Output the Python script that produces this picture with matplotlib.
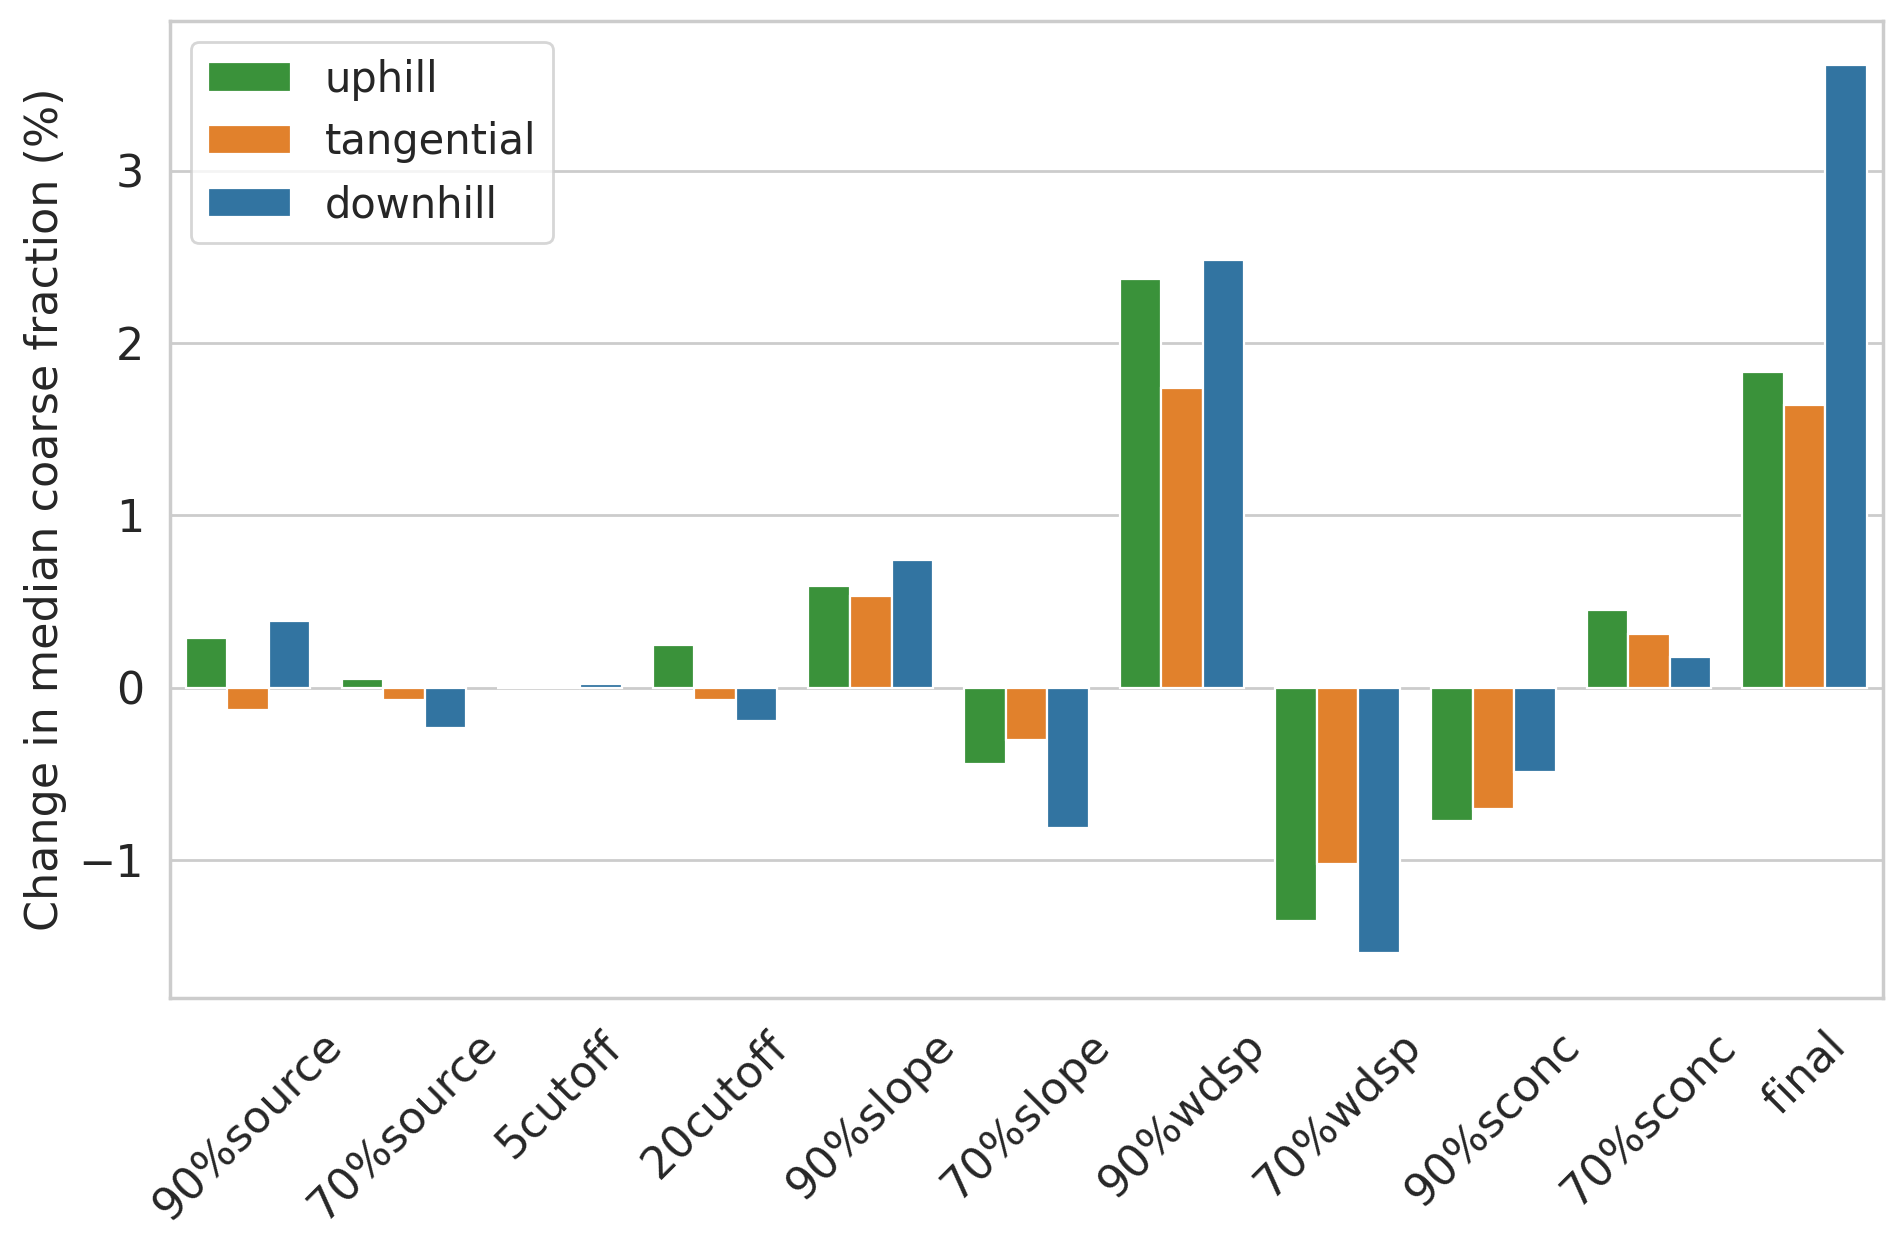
import numpy as np
import matplotlib
matplotlib.use('Agg')
import matplotlib.pyplot as plt
import seaborn as sns

# Scenario labels and median changes per direction
scenarios = ['90%source', '70%source', '5cutoff', '20cutoff', '90%slope', '70%slope',
             '90%wdsp', '70%wdsp', '90%sconc', '70%sconc', 'final']
uphill = [0.29, 0.05, 0.00, 0.25, 0.59, -0.44, 2.37, -1.35, -0.77, 0.45, 1.83]
tangential = [-0.13, -0.07, 0.00, -0.07, 0.53, -0.30, 1.74, -1.02, -0.70, 0.31, 1.64]
downhill = [0.39, -0.23, 0.02, -0.19, 0.74, -0.81, 2.48, -1.54, -0.49, 0.18, 3.61]

series = {'uphill': uphill, 'tangential': tangential, 'downhill': downhill}
colors = {'uphill': '#3a923a', 'tangential': '#e1812c', 'downhill': '#3274a1'}

sns.set_theme(style='whitegrid')
plt.rcParams['font.family'] = ['DejaVu Sans']
fs = 16

fig, ax = plt.subplots(figsize=(9.46, 6.205), dpi=200)
x = np.arange(len(scenarios))
width = 0.8 / 3
for i, (name, vals) in enumerate(series.items()):
    ax.bar(x + (i - 1) * width, vals, width, color=colors[name], edgecolor='white',
           linewidth=0.8, label=name)

ax.set_xlim(-0.5, len(scenarios) - 0.5)
ax.set_xticks(x)
ax.set_xticklabels(scenarios, rotation=45, ha='center', fontsize=fs)
ax.tick_params(axis='y', labelsize=fs)
ax.set_ylabel('Change in median coarse fraction (%)', fontsize=fs)
ax.grid(axis='x', visible=False)
ax.legend(loc='upper left', fontsize=15)

fig.subplots_adjust(left=0.09, right=0.995, top=0.983, bottom=0.196)
fig.savefig('out.png', dpi=200)
